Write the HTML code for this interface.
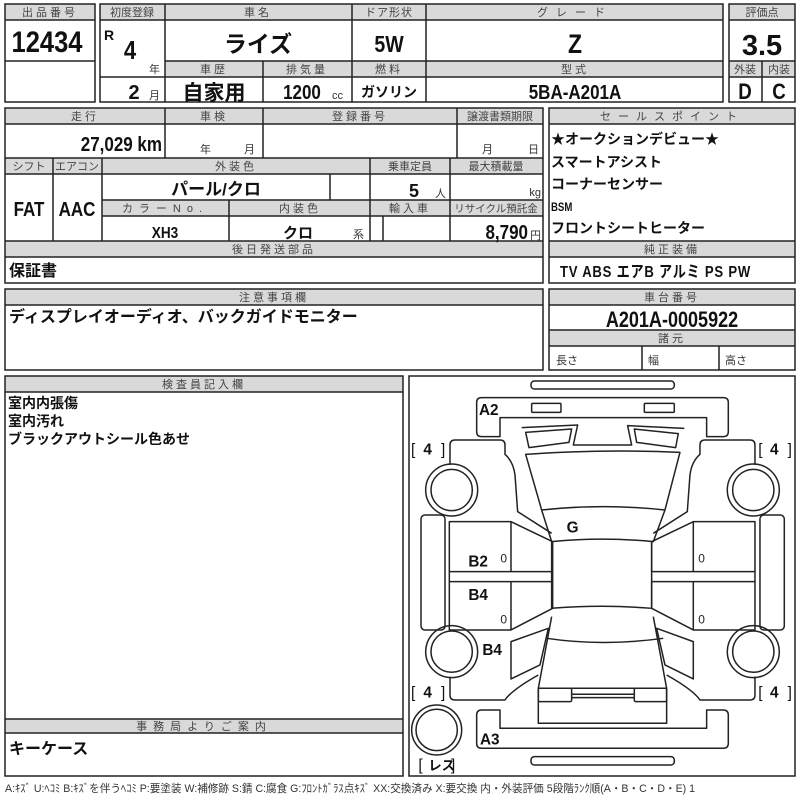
<!DOCTYPE html>
<html><head><meta charset="utf-8"><style>
html,body{margin:0;padding:0;background:#fff;}
svg{display:block;}
.h{font-family:"Liberation Sans","Noto Sans CJK JP",sans-serif;font-size:11px;fill:#444;text-anchor:middle;letter-spacing:3px;}
.b{font-family:"Liberation Sans","Noto Sans CJK JP",sans-serif;font-weight:bold;fill:#111;}
.m{text-anchor:middle;}
.s{font-family:"Liberation Sans","Noto Sans CJK JP",sans-serif;font-size:11px;fill:#333;}
</style></head><body>
<svg width="800" height="800" viewBox="0 0 800 800" xmlns="http://www.w3.org/2000/svg">
<rect width="800" height="800" fill="#fff"/>
<g fill="#d9d9d9">
<rect x="5" y="4" width="90" height="16"/>
<rect x="100" y="4" width="623" height="16"/>
<rect x="165" y="61" width="558" height="16"/>
<rect x="729" y="4" width="66" height="16"/>
<rect x="729" y="61" width="66" height="16"/>
<rect x="5" y="108" width="538" height="16"/>
<rect x="5" y="158" width="538" height="16"/>
<rect x="102" y="200" width="441" height="16"/>
<rect x="5" y="241" width="538" height="16"/>
<rect x="549" y="108" width="246" height="16"/>
<rect x="549" y="241" width="246" height="16"/>
<rect x="5" y="289" width="538" height="16"/>
<rect x="549" y="289" width="246" height="16"/>
<rect x="549" y="330" width="246" height="16"/>
<rect x="5" y="376" width="398" height="16"/>
<rect x="5" y="719" width="398" height="14"/>
</g>
<g fill="none" stroke="#222" stroke-width="1.5">
<rect x="5" y="4" width="90" height="98"/>
<path d="M5 20H95M5 61H95"/>
<rect x="100" y="4" width="623" height="98"/>
<path d="M100 20H723M165 61H723M100 77H723M165 4V102M352 4V102M426 4V102M263 61V102"/>
<rect x="729" y="4" width="66" height="98"/>
<path d="M729 20H795M729 61H795M729 77H795M762 61V102"/>
<rect x="5" y="108" width="538" height="175"/>
<path d="M5 124H543M5 158H543M5 174H543M102 200H543M102 216H543M5 241H543M5 257H543M165 108V158M263 108V158M457 108V158M53 158V241M102 158V241M370 158V241M450 158V241M330 174V200M229 200V241M383 216V241"/>
<rect x="549" y="108" width="246" height="175"/>
<path d="M549 124H795M549 241H795M549 257H795"/>
<rect x="5" y="289" width="538" height="81"/>
<path d="M5 305H543"/>
<rect x="549" y="289" width="246" height="81"/>
<path d="M549 305H795M549 330H795M549 346H795M642 346V370M719 346V370"/>
<rect x="5" y="376" width="398" height="400"/>
<path d="M5 392H403M5 719H403M5 733H403"/>
<rect x="409" y="376" width="386" height="400"/>
</g>
<!-- headers -->
<text class="h" x="50" y="16">出品番号</text>
<text class="h" x="132" y="16" style="letter-spacing:0">初度登録</text>
<text class="h" x="258" y="16">車名</text>
<text class="h" x="389" y="16" style="letter-spacing:1px">ドア形状</text>
<text class="h" x="575" y="16" style="letter-spacing:8px">グレード</text>
<text class="h" x="762" y="16" style="letter-spacing:0">評価点</text>
<text class="h" x="214" y="73">車歴</text>
<text class="h" x="307" y="73">排気量</text>
<text class="h" x="389" y="73">燃料</text>
<text class="h" x="575" y="73">型式</text>
<text class="h" x="745" y="73" style="letter-spacing:0">外装</text>
<text class="h" x="779" y="73" style="letter-spacing:0">内装</text>
<text class="h" x="85" y="120">走行</text>
<text class="h" x="214" y="120">車検</text>
<text class="h" x="360" y="120">登録番号</text>
<text class="h" x="500" y="120" style="letter-spacing:0">譲渡書類期限</text>
<text class="h" x="29" y="170" style="letter-spacing:0">シフト</text>
<text class="h" x="77" y="170" style="letter-spacing:0">エアコン</text>
<text class="h" x="236" y="170">外装色</text>
<text class="h" x="410" y="170" style="letter-spacing:0">乗車定員</text>
<text class="h" x="496" y="170" style="letter-spacing:0">最大積載量</text>
<text class="h" x="165" y="212" style="letter-spacing:6px">カラーNo.</text>
<text class="h" x="300" y="212">内装色</text>
<text class="h" x="410" y="212">輸入車</text>
<text class="h" x="496" y="212" style="letter-spacing:0;font-size:10.5px">リサイクル預託金</text>
<text class="h" x="274" y="253">後日発送部品</text>
<text class="h" x="672" y="120" style="letter-spacing:7px">セールスポイント</text>
<text class="h" x="672" y="253">純正装備</text>
<text class="h" x="274" y="301">注意事項欄</text>
<text class="h" x="672" y="301">車台番号</text>
<text class="h" x="672" y="342">諸元</text>
<text class="h" x="204" y="388">検査員記入欄</text>
<text class="h" x="204" y="730" style="letter-spacing:6px">事務局よりご案内</text>
<!-- values -->
<text class="b m" x="47" y="52" font-size="30" transform="translate(47 0) scale(0.85 1) translate(-47 0)">12434</text>
<text class="b" x="104" y="40" font-size="14">R</text>
<text class="b m" x="130" y="59" font-size="26" transform="translate(130 0) scale(0.85 1) translate(-130 0)">4</text>
<text class="s" x="149" y="73">年</text>
<text class="b m" x="258" y="52" font-size="23">ライズ</text>
<text class="b m" x="389" y="52" font-size="23" transform="translate(389 0) scale(0.85 1) translate(-389 0)">5W</text>
<text class="b m" x="575" y="53" font-size="27" transform="translate(575 0) scale(0.85 1) translate(-575 0)">Z</text>
<text class="b m" x="762" y="55" font-size="29">3.5</text>
<text class="b m" x="134" y="99" font-size="20">2</text>
<text class="s" x="149" y="99">月</text>
<text class="b m" x="214" y="100" font-size="21">自家用</text>
<text class="b m" x="302" y="99" font-size="20" transform="translate(302 0) scale(0.85 1) translate(-302 0)">1200</text>
<text class="s" x="332" y="99" font-size="10">cc</text>
<text class="b m" x="389" y="97" font-size="14">ガソリン</text>
<text class="b m" x="575" y="99" font-size="20" transform="translate(575 0) scale(0.85 1) translate(-575 0)">5BA-A201A</text>
<text class="b m" x="745" y="99" font-size="22" transform="translate(745 0) scale(0.85 1) translate(-745 0)">D</text>
<text class="b m" x="779" y="99" font-size="22" transform="translate(779 0) scale(0.85 1) translate(-779 0)">C</text>
<text class="b" x="162" y="151" font-size="20" text-anchor="end" transform="translate(162 0) scale(0.85 1) translate(-162 0)">27,029 km</text>
<text class="s" x="200" y="153">年</text><text class="s" x="244" y="153">月</text>
<text class="s" x="482" y="153">月</text><text class="s" x="528" y="153">日</text>
<text class="b m" x="216" y="195" font-size="17">パール/クロ</text>
<text class="b m" x="414" y="197" font-size="18">5</text>
<text class="s" x="435" y="197" font-size="10">人</text>
<text class="s" x="541" y="196" text-anchor="end" font-size="12">kg</text>
<text class="b m" x="29" y="216" font-size="20" transform="translate(29 0) scale(0.85 1) translate(-29 0)">FAT</text>
<text class="b m" x="77" y="216" font-size="20" transform="translate(77 0) scale(0.85 1) translate(-77 0)">AAC</text>
<text class="b m" x="165" y="238" font-size="16" transform="translate(165 0) scale(0.85 1) translate(-165 0)">XH3</text>
<text class="b m" x="298" y="238" font-size="15">クロ</text>
<text class="s" x="353" y="238">系</text>
<text class="b" x="528" y="239" font-size="20" text-anchor="end" transform="translate(528 0) scale(0.85 1) translate(-528 0)">8,790</text>
<text class="s" x="530" y="239">円</text>
<text class="b" x="9" y="276" font-size="16">保証書</text>
<text class="b" x="551" y="144" font-size="14">★オークションデビュー★</text>
<text class="b" x="551" y="167" font-size="14">スマートアシスト</text>
<text class="b" x="551" y="189" font-size="14">コーナーセンサー</text>
<text class="b" x="551" y="211" font-size="12" transform="translate(551 0) scale(0.8 1) translate(-551 0)">BSM</text>
<text class="b" x="551" y="233" font-size="14">フロントシートヒーター</text>
<text class="b" x="560" y="277" font-size="16" transform="translate(560 0) scale(0.82 1) translate(-560 0)" textLength="232">TV  ABS  エアB  アルミ  PS  PW</text>
<text class="b" x="9" y="322" font-size="16">ディスプレイオーディオ、バックガイドモニター</text>
<text class="b m" x="672" y="327" font-size="22" transform="translate(672 0) scale(0.82 1) translate(-672 0)">A201A-0005922</text>
<text class="s" x="556" y="364">長さ</text><text class="s" x="648" y="364">幅</text><text class="s" x="725" y="364">高さ</text>
<text class="b" x="8" y="408" font-size="14">室内内張傷</text>
<text class="b" x="8" y="426" font-size="14">室内汚れ</text>
<text class="b" x="8" y="444" font-size="14">ブラックアウトシール色あせ</text>
<text class="b" x="9" y="754" font-size="16">キーケース</text>
<text class="s" x="5" y="792" font-size="9" textLength="690" lengthAdjust="spacingAndGlyphs">A:ｷｽﾞ U:ﾍｺﾐ B:ｷｽﾞを伴うﾍｺﾐ P:要塗装 W:補修跡 S:錆 C:腐食 G:ﾌﾛﾝﾄｶﾞﾗｽ点ｷｽﾞ XX:交換済み X:要交換 内・外装評価 5段階ﾗﾝｸ順(A・B・C・D・E) 1</text>
<!-- car diagram -->
<g transform="translate(405 375) scale(0.3333)">
<g fill="none" stroke="#222" stroke-width="4.5" stroke-linejoin="round">
<rect x="378" y="18" width="430" height="24" rx="10"/>
<path d="M285,185 L230,185 Q215,185 215,170 L215,82 Q215,68 230,68 L955,68 Q970,68 970,82 L970,170 Q970,185 955,185 L905,185 L905,128 L285,128 Z"/>
<rect x="380" y="85" width="88" height="27" rx="3"/>
<rect x="718" y="85" width="90" height="27" rx="3"/>
<path d="M350,158 L518,150 L505,210 L680,210 L668,152 L838,160"/>
<path d="M362,172 L500,162 L492,202 L372,218 Z"/>
<path d="M688,162 L820,176 L812,218 L695,202 Z"/>
<path d="M362,238 Q590,222 825,232 L780,405 Q595,385 410,405 Z"/>
<path d="M410,405 L440,500 Q592,485 745,500 L780,405"/>
<path d="M440,500 L440,700 Q592,688 740,700 L740,500"/>
<path d="M135,270 L135,210 Q135,195 150,195 L285,195 Q300,195 300,210 L300,238 Q325,260 330,300 L338,410 L440,475"/>
<path d="M1050,270 L1050,210 Q1050,195 1035,195 L900,195 Q885,195 885,210 L885,238 Q860,260 855,300 L847,410 L745,475"/>
<circle cx="140" cy="345" r="78"/><circle cx="140" cy="345" r="62"/>
<circle cx="1045" cy="345" r="78"/><circle cx="1045" cy="345" r="62"/>
<circle cx="140" cy="830" r="78"/><circle cx="140" cy="830" r="62"/>
<circle cx="1045" cy="830" r="78"/><circle cx="1045" cy="830" r="62"/>
<circle cx="95" cy="1065" r="75"/><circle cx="95" cy="1065" r="62"/>
<rect x="48" y="420" width="72" height="345" rx="12"/>
<rect x="1065" y="420" width="73" height="345" rx="12"/>
<path d="M133,440 L318,440 L443,500 L443,590 L133,590 Z M318,440 V590"/>
<path d="M133,620 L443,620 L443,700 L318,765 L133,765 Z M318,620 V765"/>
<path d="M133,590 V620 M443,590 V620"/>
<path d="M1050,440 L865,440 L740,500 L740,590 L1050,590 Z M865,440 V590"/>
<path d="M1050,620 L740,620 L740,700 L865,765 L1050,765 Z M865,620 V765"/>
<path d="M1050,590 V620"/>
<path d="M440,725 L400,940 M745,725 L785,940 M425,790 Q592,815 775,790"/>
<path d="M318,800 L430,760 L405,870 L318,912 Z"/>
<path d="M865,800 L755,760 L780,870 L865,912 Z"/>
<path d="M135,905 L135,960 Q135,975 150,975 L300,975 Q320,945 400,900"/>
<path d="M1050,905 L1050,960 Q1050,975 1035,975 L885,975 Q865,945 785,900"/>
<rect x="400" y="940" width="385" height="105"/>
<rect x="400" y="940" width="100" height="40" rx="4"/>
<rect x="688" y="940" width="97" height="40" rx="4"/>
<path d="M500,958 H688 M500,968 H688"/>
<path d="M285,1005 L230,1005 Q215,1005 215,1020 L215,1105 Q215,1120 230,1120 L955,1120 Q970,1120 970,1105 L970,1020 Q970,1005 955,1005 L905,1005 L905,1060 L285,1060 Z"/>
<rect x="378" y="1145" width="430" height="25" rx="10"/>
</g>
<g class="b" font-size="46">
<text x="222" y="120">A2</text>
<text x="485" y="472">G</text>
<text x="190" y="575">B2</text>
<text x="190" y="675">B4</text>
<text x="232" y="840">B4</text>
<text x="225" y="1108">A3</text>
<text x="18" y="238" font-weight="normal">[</text><text x="55" y="238">4</text><text x="108" y="238" font-weight="normal">]</text>
<text x="1060" y="238" font-weight="normal">[</text><text x="1095" y="238">4</text><text x="1148" y="238" font-weight="normal">]</text>
<text x="18" y="968" font-weight="normal">[</text><text x="55" y="968">4</text><text x="108" y="968" font-weight="normal">]</text>
<text x="1060" y="968" font-weight="normal">[</text><text x="1095" y="968">4</text><text x="1148" y="968" font-weight="normal">]</text>
<text x="40" y="1185" font-weight="normal">[</text><text x="70" y="1185" font-size="40">レス</text><text x="138" y="1185" font-weight="normal">]</text>
</g>
<g font-family="Liberation Sans,sans-serif" font-size="36" fill="#222">
<text x="286" y="562">0</text><text x="286" y="745">0</text>
<text x="880" y="562">0</text><text x="880" y="745">0</text>
</g>
</g>
</svg>
</body></html>
